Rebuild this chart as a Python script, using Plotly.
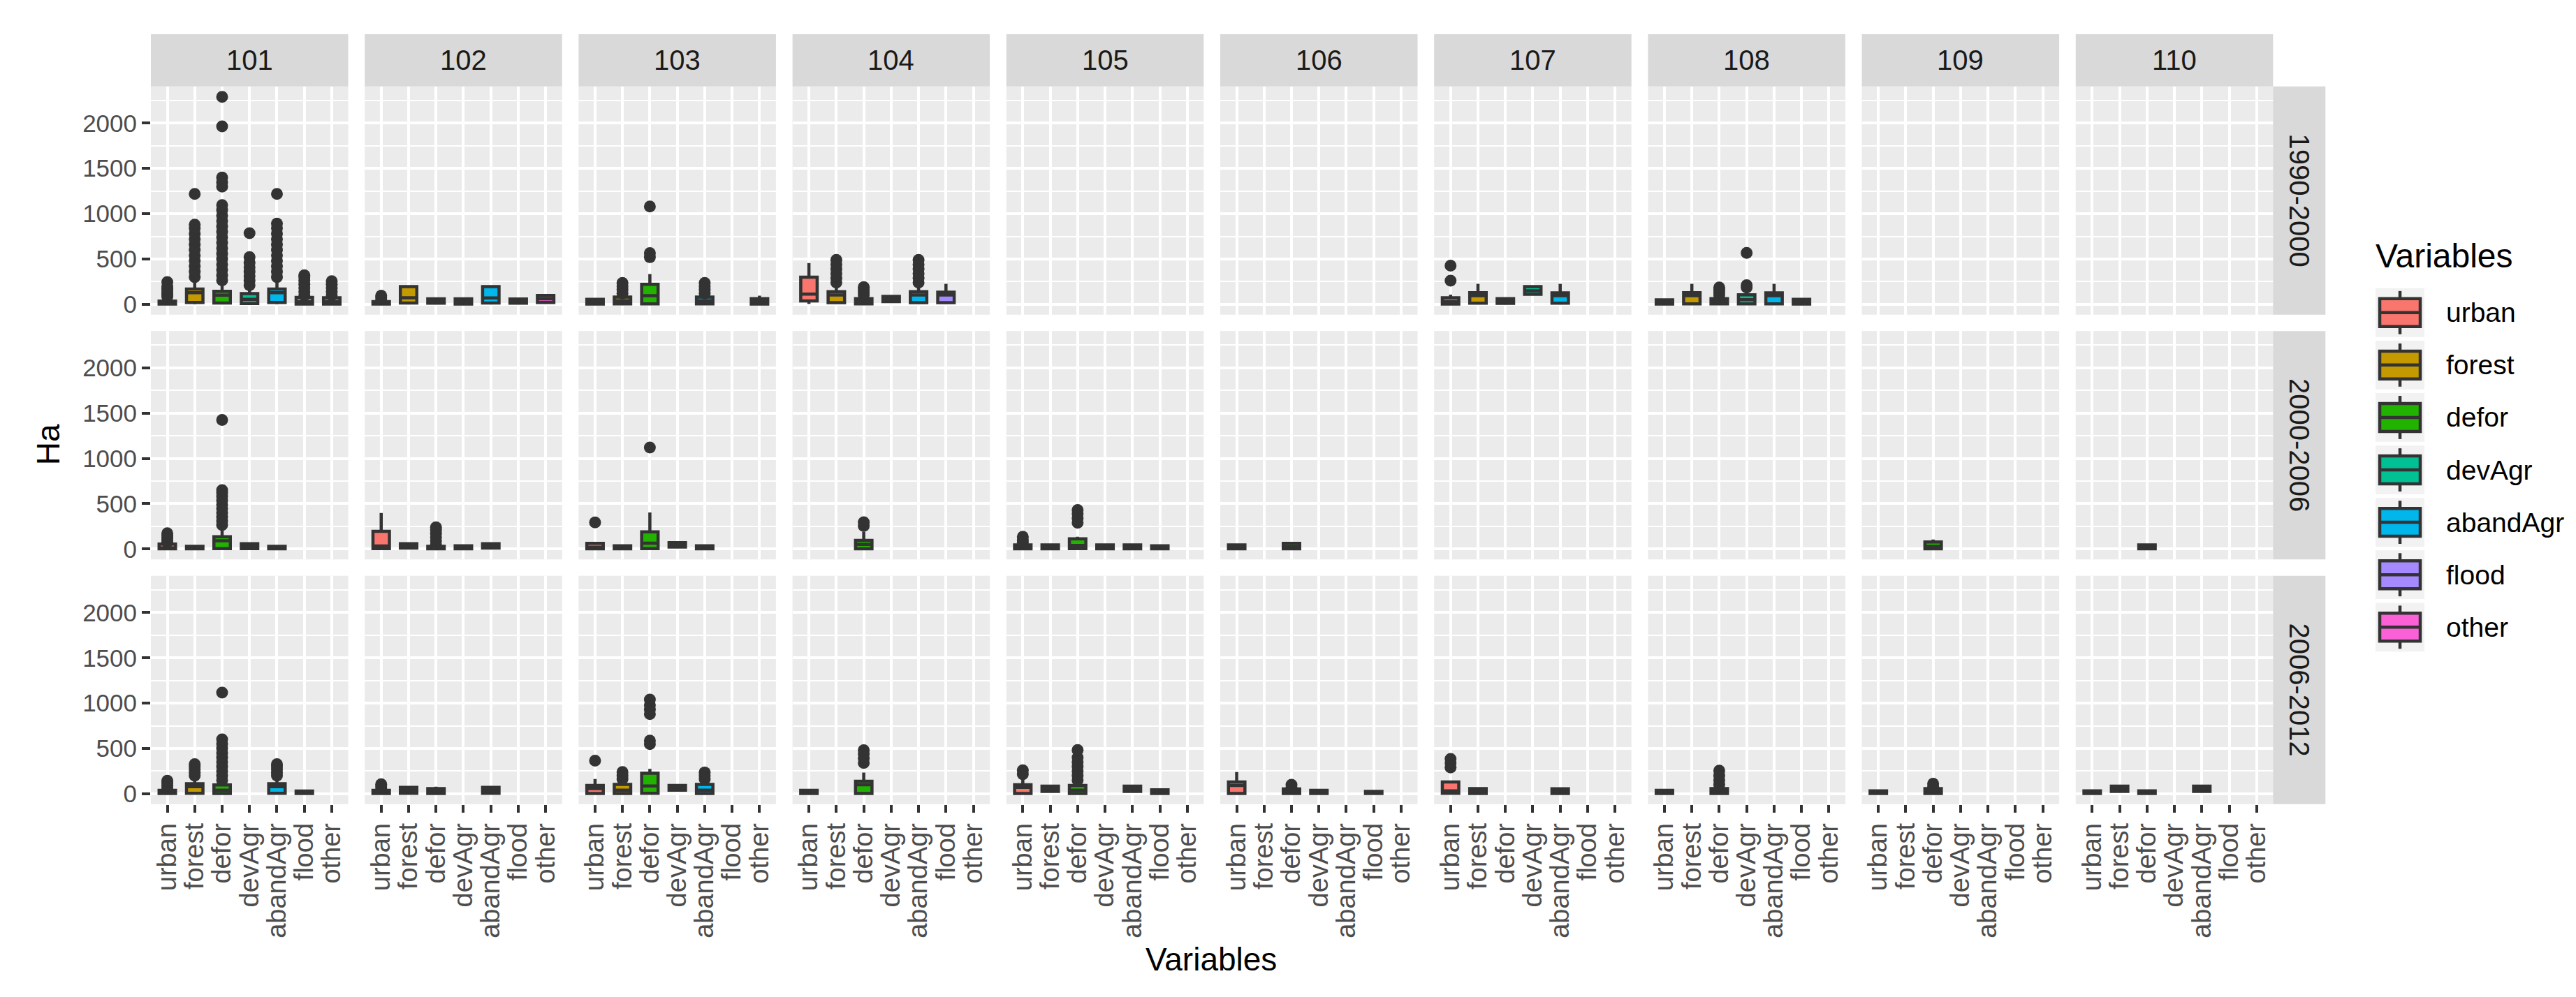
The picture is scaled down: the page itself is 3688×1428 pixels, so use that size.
import plotly.graph_objects as go

# ---------------- data ----------------
regions = ['101', '102', '103', '104', '105', '106', '107', '108', '109', '110']
periods = ['1990-2000', '2000-2006', '2006-2012']
variables = ['urban', 'forest', 'defor', 'devAgr', 'abandAgr', 'flood', 'other']
var_colors = ['#F8766D', '#C49A00', '#22B200', '#00C094', '#00B6EB', '#A58AFF', '#FB61D7']
y_ticks = [0, 500, 1000, 1500, 2000]

# box statistics (period, region, variable, lower whisker, q1, median, q3, upper whisker)
box_period = (['1990-2000'] * 36) + (['2000-2006'] * 26) + (['2006-2012'] * 36)
box_region = [
    '101', '101', '101', '101', '101', '101', '101',
    '102', '102', '102', '102', '102', '102', '102',
    '103', '103', '103', '103', '103',
    '104', '104', '104', '104', '104', '104',
    '107', '107', '107', '107', '107',
    '108', '108', '108', '108', '108', '108',
    # 2000-2006
    '101', '101', '101', '101', '101',
    '102', '102', '102', '102', '102',
    '103', '103', '103', '103', '103',
    '104',
    '105', '105', '105', '105', '105', '105',
    '106', '106',
    '109', '110',
    # 2006-2012
    '101', '101', '101', '101', '101',
    '102', '102', '102', '102',
    '103', '103', '103', '103', '103',
    '104', '104',
    '105', '105', '105', '105', '105',
    '106', '106', '106', '106',
    '107', '107', '107',
    '108', '108',
    '109', '109',
    '110', '110', '110', '110',
]
box_var = [
    'urban', 'forest', 'defor', 'devAgr', 'abandAgr', 'flood', 'other',
    'urban', 'forest', 'defor', 'devAgr', 'abandAgr', 'flood', 'other',
    'urban', 'forest', 'defor', 'abandAgr', 'other',
    'urban', 'forest', 'defor', 'devAgr', 'abandAgr', 'flood',
    'urban', 'forest', 'defor', 'devAgr', 'abandAgr',
    'urban', 'forest', 'defor', 'devAgr', 'abandAgr', 'flood',
    # 2000-2006
    'urban', 'forest', 'defor', 'devAgr', 'abandAgr',
    'urban', 'forest', 'defor', 'devAgr', 'abandAgr',
    'urban', 'forest', 'defor', 'devAgr', 'abandAgr',
    'defor',
    'urban', 'forest', 'defor', 'devAgr', 'abandAgr', 'flood',
    'urban', 'defor',
    'defor', 'defor',
    # 2006-2012
    'urban', 'forest', 'defor', 'abandAgr', 'flood',
    'urban', 'forest', 'defor', 'abandAgr',
    'urban', 'forest', 'defor', 'devAgr', 'abandAgr',
    'urban', 'defor',
    'urban', 'forest', 'defor', 'abandAgr', 'flood',
    'urban', 'defor', 'devAgr', 'flood',
    'urban', 'forest', 'abandAgr',
    'urban', 'defor',
    'urban', 'defor',
    'urban', 'forest', 'defor', 'abandAgr',
]
box_lo = [
    0, 0, 0, 0, 0, 0, 0,
    0, 0, 0, 0, 0, 0, 5,
    0, 0, 0, 0, 0,
    5, 5, 0, 25, 5, 5,
    0, 5, 5, 95, 5,
    0, 0, 0, 0, 0, 0,
    0, 0, 0, 0, 0,
    0, 5, 0, 0, 5,
    0, 0, 0, 15, 0,
    0,
    0, 0, 0, 0, 0, 0,
    0, 0,
    0, 0,
    0, 0, 0, 0, 0,
    0, 0, 0, 0,
    0, 0, 0, 35, 0,
    0, 0,
    0, 20, 0, 20, 0,
    0, 0, 0, 0,
    0, 0, 0,
    0, 0,
    0, 0,
    0, 20, 0, 20,
]
box_q1 = [
    3, 20, 15, 8, 20, 2, 3,
    2, 15, 12, 3, 15, 12, 20,
    2, 5, 5, 5, 2,
    38, 18, 5, 30, 18, 18,
    2, 13, 10, 110, 13,
    2, 5, 5, 5, 5, 2,
    2, 2, 5, 5, 2,
    5, 10, 2, 2, 10,
    2, 2, 5, 22, 2,
    3,
    2, 2, 5, 2, 2, 2,
    2, 3,
    3, 2,
    2, 5, 3, 5, 2,
    2, 5, 3, 5,
    3, 3, 5, 39, 3,
    2, 3,
    3, 26, 3, 26, 2,
    3, 2, 2, 2,
    5, 2, 2,
    2, 3,
    2, 3,
    2, 26, 2, 26,
]
box_med = [
    12, 128, 100, 55, 128, 30, 30,
    10, 72, 35, 25, 70, 35, 60,
    25, 40, 95, 40, 30,
    112, 102, 35, 60, 102, 102,
    30, 95, 35, 150, 95,
    20, 95, 35, 50, 95, 25,
    12, 10, 92, 30, 10,
    33, 35, 10, 12, 35,
    20, 12, 64, 45, 12,
    50,
    15, 15, 40, 15, 15, 10,
    15, 25,
    30, 15,
    12, 78, 40, 78, 10,
    12, 40, 25, 40,
    57, 40, 86, 65, 40,
    12, 99,
    70, 55, 40, 55, 15,
    91, 20, 12, 10,
    31, 25, 25,
    12, 25,
    10, 25,
    10, 55, 10, 55,
]
box_q3 = [
    35, 169, 143, 118, 169, 75, 72,
    30, 195, 60, 60, 195, 58, 98,
    55, 80, 220, 80, 62,
    300, 140, 62, 88, 140, 133,
    72, 128, 62, 195, 125,
    48, 128, 62, 105, 125, 55,
    55, 30, 135, 58, 30,
    195, 58, 30, 36, 58,
    62, 36, 190, 70, 36,
    95,
    45, 45, 112, 45, 45, 35,
    45, 62,
    78, 45,
    38, 110, 98, 110, 30,
    38, 70, 57, 70,
    91, 104, 227, 91, 104,
    38, 138,
    99, 83, 91, 83, 44,
    130, 52, 38, 26,
    130, 57, 55,
    38, 57,
    31, 57,
    31, 83, 31, 83,
]
box_hi = [
    75, 290, 250, 200, 290, 90, 90,
    45, 210, 65, 65, 210, 65, 108,
    60, 100, 335, 100, 95,
    455, 210, 80, 95, 210, 227,
    107, 227, 68, 210, 227,
    55, 227, 80, 160, 227, 60,
    65, 35, 212, 65, 35,
    397, 62, 35, 40, 62,
    70, 40, 404, 75, 40,
    192,
    50, 50, 136, 50, 50, 40,
    50, 68,
    105, 50,
    50, 185, 135, 185, 35,
    50, 75, 78, 75,
    162, 130, 274, 95, 130,
    45, 235,
    183, 88, 130, 88, 48,
    240, 60, 42, 30,
    140, 62, 60,
    42, 70,
    35, 65,
    35, 88, 35, 88,
]

# outliers (period, region, variable, values)
out_period = (['1990-2000'] * 17) + (['2000-2006'] * 8) + (['2006-2012'] * 16)
out_region = [
    '101', '101', '101', '101', '101', '101', '101',
    '102', '103', '103', '103', '104', '104', '104', '107', '108', '108',
    '101', '101', '102', '103', '103', '104', '105', '105',
    '101', '101', '101', '101', '102', '103', '103', '103', '103',
    '104', '105', '105', '106', '107', '108', '109',
]
out_var = [
    'urban', 'forest', 'defor', 'devAgr', 'abandAgr', 'flood', 'other',
    'urban', 'forest', 'defor', 'abandAgr', 'forest', 'defor', 'abandAgr', 'urban', 'defor', 'devAgr',
    'urban', 'defor', 'defor', 'urban', 'defor', 'defor', 'urban', 'defor',
    'urban', 'forest', 'defor', 'abandAgr', 'urban', 'urban', 'forest', 'defor', 'abandAgr',
    'defor', 'urban', 'defor', 'defor', 'urban', 'defor', 'defor',
]
out_values = [
    [85, 105, 125, 150, 175, 200, 245],
    [300, 360, 420, 480, 540, 600, 660, 720, 780, 840, 880, 1218],
    [265, 320, 380, 440, 500, 560, 620, 680, 740, 800, 860, 920, 980, 1040, 1095, 1300, 1345, 1400, 1965, 2290],
    [210, 260, 310, 360, 410, 460, 520, 785],
    [300, 360, 420, 480, 540, 600, 660, 720, 780, 840, 890, 1218],
    [100, 140, 180, 220, 260, 300, 320],
    [100, 140, 180, 220, 255],
    [55, 75, 95],
    [120, 160, 200, 235],
    [520, 565, 1080],
    [120, 160, 200, 235],
    [240, 290, 340, 390, 440, 490],
    [100, 130, 160, 190],
    [240, 290, 340, 390, 440, 490],
    [260, 427],
    [100, 130, 160, 185],
    [185, 210, 567],
    # 2000-2006
    [75, 100, 125, 150, 175],
    [265, 310, 355, 400, 445, 490, 535, 580, 620, 650, 1425],
    [50, 90, 130, 170, 210, 240],
    [294],
    [1121],
    [255, 295],
    [70, 100, 136],
    [290, 340, 390, 430],
    # 2006-2012
    [60, 90, 120, 144],
    [200, 235, 270, 300, 326],
    [150, 200, 250, 300, 350, 400, 450, 500, 550, 600, 1117],
    [200, 235, 270, 300, 326],
    [60, 85, 105],
    [366],
    [160, 200, 240],
    [548, 587, 880, 930, 980, 1040],
    [160, 200, 235],
    [340, 390, 440, 480],
    [215, 260],
    [150, 200, 250, 300, 350, 400, 483],
    [70, 100],
    [290, 340, 385],
    [100, 150, 200, 255],
    [80, 110],
]

# ---------------- layout geometry (pixels) ----------------
W, H = 3688, 1428
PANEL_X0, PANEL_STEP_X, PANEL_W = 208, 306.2, 282.5
PANEL_Y0, PANEL_STEP_Y, PANEL_H = 116, 351.5, 328
STRIP = 75
Y_RANGE = [-115, 2406]
X_RANGE = [-0.6, 6.6]
FONT = 'Liberation Sans, Arial, sans-serif'
LINE_W = 4.5


def px(x):
    return x / W


def py(y):
    return 1 - y / H


fig = go.Figure()
layout = {}
shapes = []
annotations = []


def axis_id(r, c):
    return r * 10 + c + 1


for r, per in enumerate(periods):
    for c, reg in enumerate(regions):
        k = axis_id(r, c)
        sfx = '' if k == 1 else str(k)
        x0 = PANEL_X0 + c * PANEL_STEP_X
        y0 = PANEL_Y0 + r * PANEL_STEP_Y
        bottom = (r == len(periods) - 1)
        left = (c == 0)
        layout['xaxis' + sfx] = dict(
            domain=[px(x0), px(x0 + PANEL_W)], anchor='y' + sfx,
            range=X_RANGE, tickmode='array',
            tickvals=list(range(len(variables))), ticktext=variables,
            showgrid=True, gridcolor='white', gridwidth=4, zeroline=False,
            showline=False, ticks='outside' if bottom else '',
            ticklen=11, tickwidth=4, tickcolor='#333333',
            showticklabels=bottom, tickangle=-90,
            tickfont=dict(family=FONT, size=38, color='#4D4D4D'),
            fixedrange=True,
        )
        layout['yaxis' + sfx] = dict(
            domain=[py(y0 + PANEL_H), py(y0)], anchor='x' + sfx,
            range=Y_RANGE, tickmode='linear', tick0=0, dtick=500,
            showgrid=True, gridcolor='white', gridwidth=4, zeroline=False,
            showline=False, ticks='outside' if left else '',
            ticklen=12, tickwidth=4, tickcolor='#333333',
            showticklabels=left,
            tickfont=dict(family=FONT, size=35, color='#4D4D4D'),
            minor=dict(tick0=0, dtick=250, showgrid=True, gridcolor='white', gridwidth=2, ticks=''),
            fixedrange=True,
        )
        # empty trace so that every panel is drawn, even without data
        fig.add_trace(go.Scatter(x=[None], y=[None], mode='markers', xaxis='x' + sfx, yaxis='y' + sfx,
                                 showlegend=False, hoverinfo='skip'))
        # column strip
        if r == 0:
            shapes.append(dict(type='rect', xref='paper', yref='paper',
                               x0=px(x0), x1=px(x0 + PANEL_W), y0=py(PANEL_Y0 - STRIP), y1=py(PANEL_Y0),
                               fillcolor='#D9D9D9', line=dict(width=0), layer='below'))
            annotations.append(dict(xref='paper', yref='paper', x=px(x0 + PANEL_W / 2),
                                    y=py(PANEL_Y0 - STRIP / 2), text=reg, showarrow=False,
                                    font=dict(family=FONT, size=40, color='#1A1A1A'),
                                    xanchor='center', yanchor='middle'))
        # row strip
        if c == len(regions) - 1:
            sx0 = x0 + PANEL_W
            shapes.append(dict(type='rect', xref='paper', yref='paper',
                               x0=px(sx0), x1=px(sx0 + STRIP), y0=py(y0 + PANEL_H), y1=py(y0),
                               fillcolor='#D9D9D9', line=dict(width=0), layer='below'))
            annotations.append(dict(xref='paper', yref='paper', x=px(sx0 + STRIP / 2),
                                    y=py(y0 + PANEL_H / 2), text=per, showarrow=False, textangle=90,
                                    font=dict(family=FONT, size=40, color='#1A1A1A'),
                                    xanchor='center', yanchor='middle'))

# boxes
for i in range(len(box_var)):
    r = periods.index(box_period[i])
    c = regions.index(box_region[i])
    k = axis_id(r, c)
    sfx = '' if k == 1 else str(k)
    vi = variables.index(box_var[i])
    fig.add_trace(go.Box(
        x=[vi], q1=[box_q1[i]], median=[box_med[i]], q3=[box_q3[i]],
        lowerfence=[box_lo[i]], upperfence=[box_hi[i]],
        orientation='v', width=0.6, whiskerwidth=0, boxpoints=False,
        fillcolor=var_colors[vi], line=dict(color='#333333', width=LINE_W),
        xaxis='x' + sfx, yaxis='y' + sfx, showlegend=False, hoverinfo='skip',
    ))

# outliers
for i in range(len(out_var)):
    r = periods.index(out_period[i])
    c = regions.index(out_region[i])
    k = axis_id(r, c)
    sfx = '' if k == 1 else str(k)
    vi = variables.index(out_var[i])
    vals = out_values[i]
    fig.add_trace(go.Scatter(
        x=[vi] * len(vals), y=vals, mode='markers',
        marker=dict(size=17, color='#333333', line=dict(width=0)),
        xaxis='x' + sfx, yaxis='y' + sfx, showlegend=False, hoverinfo='skip',
    ))

# axis titles
annotations.append(dict(xref='paper', yref='paper', x=px(61), y=py(631), text='Ha', showarrow=False,
                        textangle=-90, font=dict(family=FONT, size=46, color='black'),
                        xanchor='center', yanchor='middle'))
annotations.append(dict(xref='paper', yref='paper', x=px(1726), y=py(1370), text='Variables',
                        showarrow=False, font=dict(family=FONT, size=46, color='black'),
                        xanchor='center', yanchor='middle'))

# manual legend (ggplot style keys)
LEG_X, LEG_TOP, KEY, PITCH = 3393, 406, 70, 75.3
annotations.append(dict(xref='paper', yref='paper', x=px(LEG_X - 2), y=py(360), text='Variables',
                        showarrow=False, font=dict(family=FONT, size=48, color='black'),
                        xanchor='left', yanchor='middle'))
for i, v in enumerate(variables):
    top = LEG_TOP + i * PITCH
    cx = LEG_X + KEY / 2
    shapes.append(dict(type='rect', xref='paper', yref='paper', x0=px(LEG_X), x1=px(LEG_X + KEY),
                       y0=py(top + KEY), y1=py(top), fillcolor='#F2F2F2', line=dict(width=0)))
    shapes.append(dict(type='line', xref='paper', yref='paper', x0=px(cx), x1=px(cx),
                       y0=py(top + 4), y1=py(top + 66), line=dict(color='#333333', width=LINE_W)))
    shapes.append(dict(type='rect', xref='paper', yref='paper', x0=px(LEG_X + 6), x1=px(LEG_X + KEY - 6),
                       y0=py(top + 55), y1=py(top + 15), fillcolor=var_colors[i],
                       line=dict(color='#333333', width=LINE_W)))
    shapes.append(dict(type='line', xref='paper', yref='paper', x0=px(LEG_X + 6), x1=px(LEG_X + KEY - 6),
                       y0=py(top + 35), y1=py(top + 35), line=dict(color='#333333', width=LINE_W)))
    annotations.append(dict(xref='paper', yref='paper', x=px(3492), y=py(top + KEY / 2), text=v,
                            showarrow=False, font=dict(family=FONT, size=39, color='black'),
                            xanchor='left', yanchor='middle'))

fig.update_layout(
    width=W, height=H, autosize=False,
    margin=dict(l=0, r=0, t=0, b=0),
    paper_bgcolor='white', plot_bgcolor='#EBEBEB',
    font=dict(family=FONT),
    showlegend=False, boxmode='overlay',
    shapes=shapes, annotations=annotations,
    **layout,
)

fig.write_html('out.html')
